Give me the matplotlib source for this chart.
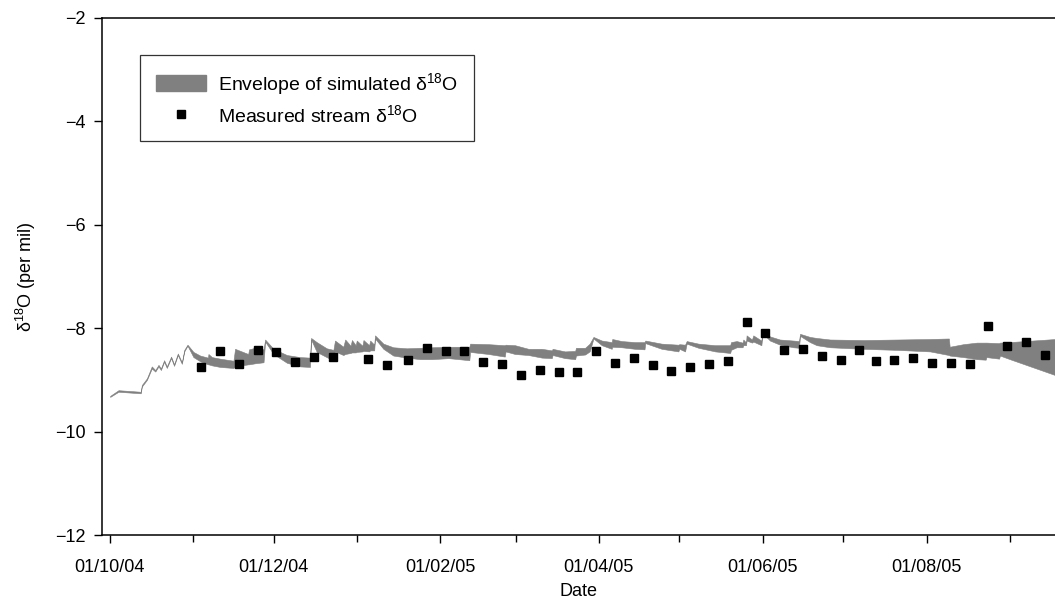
import numpy as np
import pandas as pd
import matplotlib
matplotlib.use('Agg')
from matplotlib import pyplot as plt
import matplotlib.dates as mdates
from matplotlib.patches import Patch
from matplotlib.lines import Line2D

plt.rcParams['font.family'] = ['Liberation Sans', 'DejaVu Sans']
plt.rcParams['mathtext.fontset'] = 'custom'
plt.rcParams['mathtext.rm'] = 'Liberation Sans'
plt.rcParams['mathtext.default'] = 'regular'

START = '2004-10-01'

# simulated envelope: days since START, upper and lower bound (per mil)
env_days = [0.1, 3.2, 11.5, 11.9, 13.8, 15.6, 16.9, 18.1, 19.0, 20.2, 21.2, 22.8,
            23.9, 25.3, 26.8, 27.7, 28.9, 31.1, 33.6, 36.5, 36.7, 38.0, 41.0, 46.0,
            46.6, 51.5, 51.8, 54.0, 57.2, 57.8, 60.9, 65.9, 70.8, 74.5, 74.9, 77.0,
            80.7, 83.2, 83.8, 86.9, 87.6, 89.6, 90.1, 91.5, 91.9, 94.0, 94.4, 96.5,
            96.9, 98.4, 98.7, 101.8, 105.5, 110.5, 115.5, 120.0, 126.0, 133.8, 134.1,
            140.9, 147.0, 147.3, 150.8, 155.8, 160.8, 164.5, 164.8, 169.4, 173.2,
            173.5, 176.9, 178.6, 180.0, 183.1, 186.8, 187.0, 190.5, 195.5, 199.0,
            199.3, 205.4, 211.6, 212.0, 214.1, 214.7, 219.1, 225.3, 230.9, 231.2,
            233.3, 235.5, 235.8, 236.8, 237.0, 239.0, 239.5, 242.5, 243.0, 245.7,
            249.4, 254.4, 256.5, 256.9, 260.6, 263.1, 268.1, 280.5, 292.9, 305.3,
            312.3, 312.6, 317.7, 322.7, 326.0, 326.3, 331.0, 331.3, 335.0, 352.0]
env_upper = [-9.31, -9.20, -9.23, -9.10, -8.97, -8.74, -8.81, -8.71, -8.78, -8.62, -8.74, -8.55,
             -8.70, -8.49, -8.66, -8.42, -8.32, -8.46, -8.53, -8.57, -8.50, -8.56, -8.59, -8.63,
             -8.40, -8.50, -8.41, -8.38, -8.41, -8.22, -8.40, -8.52, -8.56, -8.57, -8.19, -8.27,
             -8.39, -8.42, -8.24, -8.36, -8.22, -8.34, -8.23, -8.33, -8.24, -8.34, -8.23, -8.33,
             -8.24, -8.32, -8.14, -8.30, -8.37, -8.39, -8.38, -8.37, -8.36, -8.36, -8.30,
             -8.31, -8.33, -8.32, -8.33, -8.40, -8.40, -8.43, -8.40, -8.45, -8.44,
             -8.38, -8.38, -8.30, -8.17, -8.24, -8.27, -8.21, -8.25, -8.27, -8.27,
             -8.24, -8.30, -8.32, -8.31, -8.32, -8.25, -8.30, -8.33, -8.33, -8.27,
             -8.25, -8.28, -8.22, -8.28, -8.14, -8.22, -8.14, -8.24, -8.06, -8.16,
             -8.22, -8.24, -8.25, -8.11, -8.17, -8.19, -8.22, -8.23, -8.22, -8.21,
             -8.20, -8.36, -8.31, -8.28, -8.28, -8.28, -8.29, -8.28, -8.27, -8.21]
env_lower = [-9.33, -9.23, -9.26, -9.13, -9.00, -8.78, -8.84, -8.74, -8.81, -8.65, -8.77, -8.58,
             -8.73, -8.52, -8.69, -8.45, -8.34, -8.56, -8.64, -8.70, -8.70, -8.72, -8.75, -8.77,
             -8.74, -8.70, -8.70, -8.68, -8.66, -8.26, -8.50, -8.67, -8.74, -8.75, -8.22, -8.46,
             -8.56, -8.63, -8.45, -8.52, -8.50, -8.48, -8.47, -8.47, -8.46, -8.45, -8.44, -8.45,
             -8.43, -8.43, -8.20, -8.40, -8.53, -8.57, -8.60, -8.60, -8.58, -8.62, -8.46,
             -8.50, -8.55, -8.45, -8.50, -8.52, -8.57, -8.58, -8.52, -8.58, -8.60,
             -8.53, -8.51, -8.45, -8.20, -8.33, -8.40, -8.36, -8.37, -8.40, -8.41,
             -8.29, -8.40, -8.45, -8.40, -8.45, -8.30, -8.38, -8.45, -8.48, -8.42,
             -8.37, -8.37, -8.33, -8.33, -8.24, -8.28, -8.26, -8.33, -8.10, -8.24,
             -8.32, -8.37, -8.38, -8.15, -8.27, -8.33, -8.37, -8.40, -8.42, -8.45,
             -8.52, -8.53, -8.56, -8.60, -8.61, -8.56, -8.59, -8.53, -8.60, -8.91]

# measured stream samples
meas_dates = ['2004-11-04', '2004-11-11', '2004-11-18', '2004-11-25', '2004-12-02',
              '2004-12-09', '2004-12-16', '2004-12-23', '2005-01-05', '2005-01-12',
              '2005-01-20', '2005-01-27', '2005-02-03', '2005-02-10', '2005-02-17',
              '2005-02-24', '2005-03-03', '2005-03-10', '2005-03-17', '2005-03-24',
              '2005-03-31', '2005-04-07', '2005-04-14', '2005-04-21', '2005-04-28',
              '2005-05-05', '2005-05-12', '2005-05-19', '2005-05-26', '2005-06-02',
              '2005-06-09', '2005-06-16', '2005-06-23', '2005-06-30', '2005-07-07',
              '2005-07-13', '2005-07-20', '2005-07-27', '2005-08-03', '2005-08-10',
              '2005-08-17', '2005-08-24', '2005-08-31', '2005-09-07', '2005-09-14']
meas_values = [-8.76, -8.45, -8.70, -8.43, -8.47, -8.66, -8.55, -8.55, -8.59, -8.72,
               -8.61, -8.39, -8.45, -8.45, -8.66, -8.70, -8.90, -8.80, -8.84, -8.84,
               -8.45, -8.68, -8.57, -8.72, -8.82, -8.76, -8.70, -8.63, -7.89, -8.10,
               -8.43, -8.41, -8.53, -8.61, -8.43, -8.64, -8.61, -8.57, -8.68, -8.68,
               -8.70, -7.95, -8.35, -8.26, -8.51]

y_ticks = [-12, -10, -8, -6, -4, -2]

GREY = '#808080'
start_num = mdates.date2num(pd.Timestamp(START))
env_x = start_num + np.array(env_days)
meas_x = mdates.date2num(pd.to_datetime(meas_dates))

fig = plt.figure(figsize=(10.55, 6), dpi=100)
ax = fig.add_axes([0.097, 0.1083, 0.903, 0.862])

ax.fill_between(env_x, env_lower, env_upper, color=GREY, linewidth=0.4, edgecolor=GREY)
ax.plot(meas_x, meas_values, 's', color='black', markersize=6.2, linestyle='none')

ax.set_xlim(start_num - 2.8, start_num + 351.8)
ax.set_ylim(-12, -2)
ax.set_yticks(y_ticks)

ax.xaxis.set_major_locator(mdates.MonthLocator(bymonth=[10, 12, 2, 4, 6, 8]))
ax.xaxis.set_minor_locator(mdates.MonthLocator(bymonth=[11, 1, 3, 5, 7, 9]))
ax.xaxis.set_major_formatter(mdates.DateFormatter('%d/%m/%y'))

for side in ['left', 'bottom', 'top']:
    ax.spines[side].set_linewidth(1.1)
ax.spines['right'].set_visible(False)
ax.tick_params(which='major', direction='out', length=6, width=1.0, labelsize=13, pad=11)
ax.tick_params(axis='y', which='major', pad=6)
ax.tick_params(which='minor', direction='out', length=5, width=1.0)

ax.set_xlabel('Date', fontsize=13, labelpad=5)
ax.set_ylabel('δ$^{18}$O (per mil)', fontsize=13, labelpad=12)

handles = [Patch(facecolor=GREY, edgecolor=GREY),
           Line2D([], [], marker='s', color='black', linestyle='none', markersize=5.5)]
labels = ['Envelope of simulated δ$^{18}$O', 'Measured stream δ$^{18}$O']
leg = ax.legend(handles, labels, loc='upper left', bbox_to_anchor=(0.0396, 0.928),
                fontsize=14, frameon=True, fancybox=False, borderpad=0.8,
                handlelength=2.6, handleheight=0.95, labelspacing=0.38, handletextpad=0.6,
                borderaxespad=0)
leg.get_frame().set_edgecolor('black')
leg.get_frame().set_linewidth(0.9)

fig.savefig('out.png', dpi=100)
